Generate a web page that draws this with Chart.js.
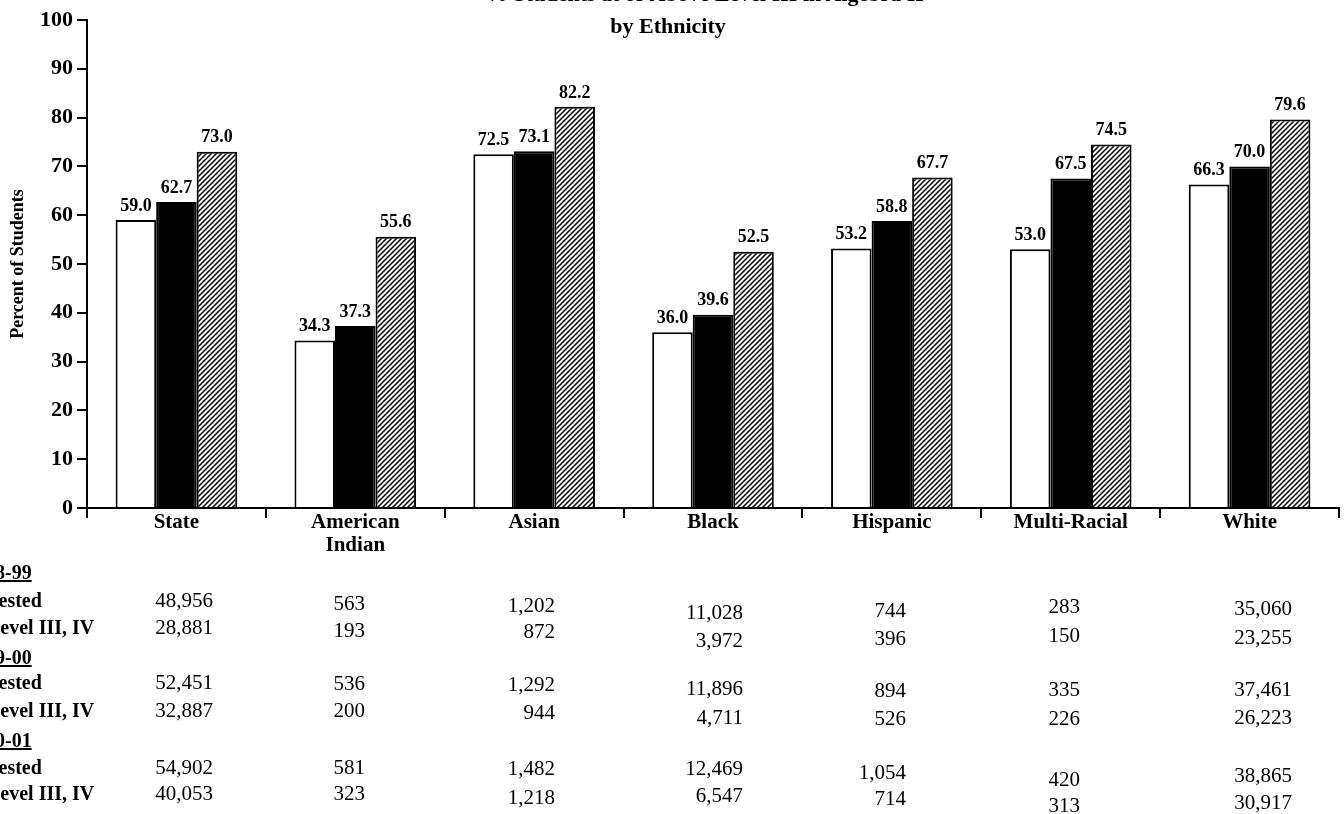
<!DOCTYPE html>
<html>
<head>
<meta charset="utf-8">
<script src="https://cdn.jsdelivr.net/npm/chart.js@4/dist/chart.umd.min.js"></script>
<style>
  body { margin: 0; background: #fff; }
  #page { position: relative; width: 1344px; height: 814px; overflow: hidden; font-family: "Liberation Serif", "DejaVu Serif", serif; color: #000; }
  #box { position: absolute; left: 0; top: 0; width: 1344px; height: 814px; }
  .title { position: absolute; font-weight: bold; font-size: 22px; line-height: 22px; white-space: nowrap; transform: translateX(-50%); }
  .cell { position: absolute; font-size: 21px; line-height: 22px; white-space: nowrap; transform: translate(-100%, -50%); }
  .lab { position: absolute; font-weight: bold; font-size: 20px; line-height: 22px; white-space: nowrap; transform: translateY(-50%); }
  .yr { text-decoration: underline; }
</style>
</head>
<body>
<div id="page">
  <div id="box"><canvas id="chart"></canvas></div>
  <div class="title" style="left:705px; top:-17px">% Students at or Above Level III in Algebra II</div>
  <div class="title" style="left:668px; top:15px">by Ethnicity</div>
  <div id="table"></div>
</div>
<script>
// ── data ─────────────────────────────────────────────
const groups   = ["State", ["American", "Indian"], "Asian", "Black", "Hispanic", "Multi-Racial", "White"];
const pct9899  = [59.0, 34.3, 72.5, 36.0, 53.2, 53.0, 66.3];
const pct9900  = [62.7, 37.3, 73.1, 39.6, 58.8, 67.5, 70.0];
const pct0001  = [73.0, 55.6, 82.2, 52.5, 67.7, 74.5, 79.6];
const yTicks   = [0, 10, 20, 30, 40, 50, 60, 70, 80, 90, 100];

const years    = ["1998-99", "1999-00", "2000-01"];
const tested   = [
  [48956, 563, 1202, 11028, 744, 283, 35060],
  [52451, 536, 1292, 11896, 894, 335, 37461],
  [54902, 581, 1482, 12469, 1054, 420, 38865],
];
const levelIII = [
  [28881, 193, 872, 3972, 396, 150, 23255],
  [32887, 200, 944, 4711, 526, 226, 26223],
  [40053, 323, 1218, 6547, 714, 313, 30917],
];

// ── table layout (scan is a bit skewed, so rows drift per column) ──
const colRight = [213, 365, 555, 743, 906, 1080, 1292];
const headY    = [572, 657, 740];
const testedY  = [
  [600, 603, 605, 612, 610, 606, 608],
  [682, 683, 684, 688, 690, 689, 689],
  [767, 767, 768, 768, 772, 779, 775],
];
const levelY   = [
  [627, 630, 631, 640, 638, 635, 637],
  [710, 710, 712, 717, 718, 718, 717],
  [793, 793, 797, 795, 798, 805, 802],
];

const table = document.getElementById("table");
const fmt = n => n.toLocaleString("en-US");
years.forEach((yr, b) => {
  table.insertAdjacentHTML("beforeend",
    `<div class="lab yr" style="left:-35px; top:${headY[b]}px">${yr}</div>` +
    `<div class="lab" style="left:-13px; top:${testedY[b][0]}px">Tested</div>` +
    `<div class="lab" style="left:-13px; top:${levelY[b][0]}px">Level III, IV</div>`);
  tested[b].forEach((v, i) => {
    table.insertAdjacentHTML("beforeend",
      `<div class="cell" style="left:${colRight[i]}px; top:${testedY[b][i]}px">${fmt(v)}</div>`);
  });
  levelIII[b].forEach((v, i) => {
    table.insertAdjacentHTML("beforeend",
      `<div class="cell" style="left:${colRight[i]}px; top:${levelY[b][i]}px">${fmt(v)}</div>`);
  });
});

// ── hatch fill for the last year ─────────────────────
function hatch() {
  const s = 5;
  const c = document.createElement("canvas");
  c.width = s; c.height = s;
  const g = c.getContext("2d");
  g.fillStyle = "#fff";
  g.fillRect(0, 0, s, s);
  g.strokeStyle = "#000";
  g.lineWidth = 1.5;
  g.beginPath();
  g.moveTo(-1, s + 1); g.lineTo(s + 1, -1);
  g.moveTo(-1, 1);     g.lineTo(1, -1);
  g.moveTo(s - 1, s + 1); g.lineTo(s + 1, s - 1);
  g.stroke();
  return g.createPattern(c, "repeat");
}

// value labels above each bar
const barLabels = {
  id: "barLabels",
  afterDatasetsDraw(chart) {
    const ctx = chart.ctx;
    ctx.save();
    ctx.font = "bold 18px 'Liberation Serif'";
    ctx.fillStyle = "#000";
    ctx.textAlign = "center";
    ctx.textBaseline = "bottom";
    chart.data.datasets.forEach((ds, di) => {
      chart.getDatasetMeta(di).data.forEach((el, i) => {
        ctx.fillText(ds.data[i].toFixed(1), el.x, el.y - 5);
      });
    });
    ctx.restore();
  }
};

const serif = "'Liberation Serif'";

new Chart(document.getElementById("chart"), {
  type: "bar",
  data: {
    labels: groups,
    datasets: [
      { label: "1998-99", data: pct9899, backgroundColor: "#fff", borderColor: "#000", borderWidth: 2 },
      { label: "1999-00", data: pct9900, backgroundColor: "#000", borderColor: "#000", borderWidth: 2 },
      { label: "2000-01", data: pct0001, backgroundColor: hatch(), borderColor: "#000", borderWidth: 2 },
    ],
  },
  options: {
    responsive: true,
    maintainAspectRatio: false,
    animation: false,
    layout: { padding: { top: 20, right: 5, left: 0, bottom: 0 } },
    datasets: { bar: { categoryPercentage: 0.68, barPercentage: 1.0 } },
    plugins: { legend: { display: false }, tooltip: { enabled: false } },
    scales: {
      x: {
        grid: { offset: true, drawOnChartArea: false, drawTicks: true, tickLength: 10, color: "#000", lineWidth: 2 },
        border: { color: "#000", width: 2 },
        ticks: {
          color: "#000", padding: -7, autoSkip: false, maxRotation: 0,
          font: { family: serif, size: 21, weight: "bold", lineHeight: 1.1 },
        },
        afterFit: s => { s.height = 814 - 508; },
      },
      y: {
        min: 0, max: 100,
        afterBuildTicks: s => { s.ticks = yTicks.map(v => ({ value: v })); },
        grid: { drawOnChartArea: false, drawTicks: true, tickLength: 10, color: "#000", lineWidth: 2 },
        border: { color: "#000", width: 2 },
        ticks: { color: "#000", padding: 4, font: { family: serif, size: 22, weight: "bold" } },
        title: {
          display: true, text: "Percent of Students", color: "#000",
          padding: { top: 8, bottom: 0 },
          font: { family: serif, size: 18, weight: "bold" },
        },
        afterFit: s => { s.width = 87; },
      },
    },
  },
  plugins: [barLabels],
});
</script>
</body>
</html>
